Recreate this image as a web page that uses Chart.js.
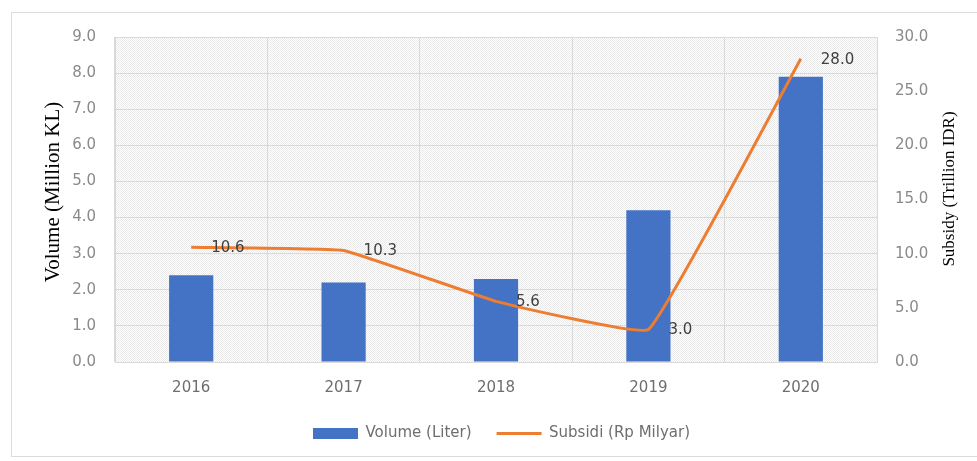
<!DOCTYPE html>
<html lang="en">
<head>
  <meta charset="UTF-8" />
  <title>Volume dan Subsidi 2016-2020</title>
  <script src="https://cdn.jsdelivr.net/npm/chart.js"></script>
  <style>
    * { margin: 0; padding: 0; box-sizing: border-box; }
    html, body { width: 977px; height: 461px; background: #fff; overflow: hidden; }
    #wrap { position: relative; width: 977px; height: 461px; }
  </style>
</head>
<body>
  <div id="wrap"><canvas id="chart" width="977" height="461"></canvas></div>

  <script>
    const years = ['2016', '2017', '2018', '2019', '2020'];
    const volume = [2.4, 2.2, 2.3, 4.2, 7.9];        // million KL
    const subsidi = [10.6, 10.3, 5.6, 3.0, 28.0];    // trillion IDR

    const gridColor = '#d9d9d9';
    const tickFont = { family: 'DejaVu Sans', size: 15 };

    // light dotted fill behind the plot
    function makeHatch() {
      const c = document.createElement('canvas');
      c.width = 2; c.height = 2;
      const p = c.getContext('2d');
      p.fillStyle = '#ffffff';
      p.fillRect(0, 0, 2, 2);
      p.fillStyle = '#e9e9e9';
      p.fillRect(0, 0, 1, 1);
      p.fillRect(1, 1, 1, 1);
      return p.createPattern(c, 'repeat');
    }

    const backdrop = {
      id: 'backdrop',
      beforeDraw(chart) {
        const { ctx, chartArea: a } = chart;
        ctx.save();
        ctx.strokeStyle = '#dcdcdc';
        ctx.lineWidth = 1;
        ctx.strokeRect(11.5, 12.5, 1000, 444);
        ctx.fillStyle = makeHatch();
        ctx.fillRect(a.left, a.top, a.right - a.left, a.bottom - a.top);
        ctx.restore();
      }
    };

    // both axis titles read bottom-to-top
    function sideTitle(ctx, text, x, y, size) {
      ctx.save();
      ctx.translate(x, y);
      ctx.rotate(-Math.PI / 2);
      ctx.font = size + 'px "Liberation Serif"';
      ctx.fillStyle = '#000';
      ctx.textAlign = 'center';
      ctx.textBaseline = 'middle';
      ctx.fillText(text, 0, 0);
      ctx.restore();
    }

    // value labels to the right of each line point, plus axis titles
    const annotations = {
      id: 'annotations',
      afterDatasetsDraw(chart) {
        const { ctx } = chart;
        const meta = chart.getDatasetMeta(1);
        ctx.save();
        ctx.font = '15px "DejaVu Sans"';
        ctx.fillStyle = '#404040';
        ctx.textAlign = 'left';
        ctx.textBaseline = 'middle';
        meta.data.forEach((pt, i) => {
          ctx.fillText(subsidi[i].toFixed(1), pt.x + 20, pt.y + 1);
        });
        ctx.restore();

        sideTitle(ctx, 'Volume (Million KL)', 53, 192, 21);
        sideTitle(ctx, 'Subsidy (Trillion IDR)', 950, 189, 17);
      }
    };

    new Chart(document.getElementById('chart').getContext('2d'), {
      data: {
        labels: years,
        datasets: [
          {
            type: 'bar',
            label: 'Volume (Liter)',
            data: volume,
            yAxisID: 'y',
            backgroundColor: '#4472c4',
            borderWidth: 0,
            categoryPercentage: 1,
            barPercentage: 0.29,
            pointStyle: 'rect',
            order: 2
          },
          {
            type: 'line',
            label: 'Subsidi (Rp Milyar)',
            data: subsidi,
            yAxisID: 'y1',
            borderColor: '#ed7d31',
            backgroundColor: '#ed7d31',
            borderWidth: 3,
            pointRadius: 0,
            pointBorderWidth: 3,
            pointStyle: 'line',
            tension: 0.08,
            order: 1
          }
        ]
      },
      options: {
        responsive: false,
        animation: false,
        layout: { padding: { left: 43, right: 17, top: 37, bottom: 10 } },
        plugins: {
          legend: {
            position: 'bottom',
            labels: {
              usePointStyle: true,
              pointStyleWidth: 45,
              boxHeight: 11,
              padding: 25,
              color: '#6e6e6e',
              font: { family: 'DejaVu Sans', size: 15 },
              sort: (a, b) => a.datasetIndex - b.datasetIndex
            }
          },
          tooltip: { enabled: false }
        },
        scales: {
          x: {
            grid: { color: gridColor, drawTicks: false, offset: true },
            border: { color: gridColor },
            ticks: { color: '#6e6e6e', font: tickFont, padding: 17 },
            afterFit(scale) { scale.height = 39; }
          },
          y: {
            position: 'left',
            min: 0,
            max: 9,
            grid: { color: gridColor, drawTicks: false },
            border: { color: gridColor },
            ticks: {
              stepSize: 1,
              color: '#8a8a8a',
              font: tickFont,
              padding: 19,
              callback: v => v.toFixed(1)
            },
            afterFit(scale) { scale.width = 72; }
          },
          y1: {
            position: 'right',
            min: 0,
            max: 30,
            grid: { display: false, drawTicks: false },
            border: { color: gridColor },
            ticks: {
              stepSize: 5,
              color: '#8a8a8a',
              font: tickFont,
              padding: 18,
              callback: v => v.toFixed(1)
            },
            afterFit(scale) { scale.width = 83; }
          }
        }
      },
      plugins: [backdrop, annotations]
    });
  </script>
</body>
</html>
